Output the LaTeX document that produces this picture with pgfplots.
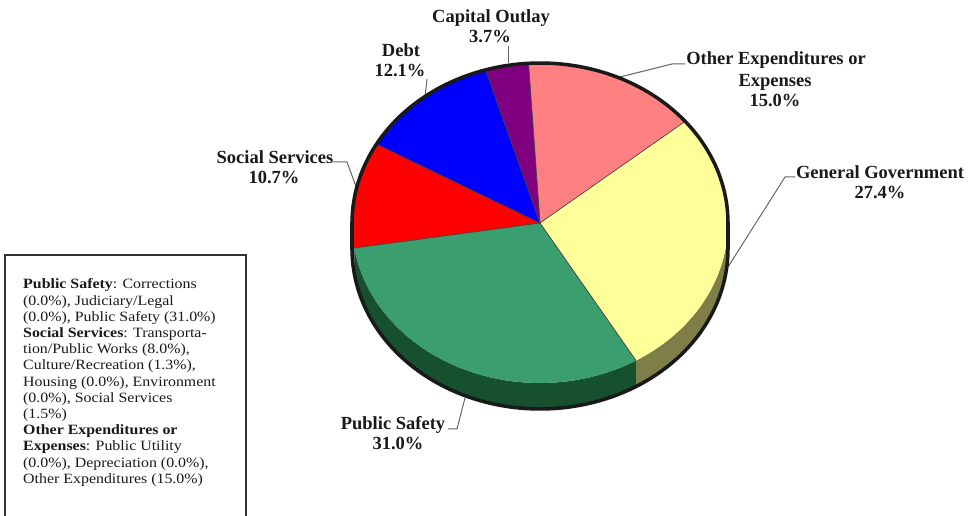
\documentclass[border=0pt]{standalone}
\usepackage{fontspec}
\setmainfont{Liberation Serif}
\usepackage{graphicx}
\usepackage{pgfplots}
\pgfplotsset{compat=1.18}
\usepgfplotslibrary{fillbetween}

\definecolor{cOther}{HTML}{FF8080}
\definecolor{cGen}{HTML}{FFFF99}
\definecolor{cSafe}{HTML}{3A9E6E}
\definecolor{cSoc}{HTML}{FF0000}
\definecolor{cDebt}{HTML}{0000FF}
\definecolor{cCap}{HTML}{800080}
\definecolor{sGen}{HTML}{7F7D48}
\definecolor{sSafe}{HTML}{16502F}
\definecolor{sSoc}{HTML}{8B0000}
\definecolor{leader}{HTML}{666666}

% slice shares in percent, clockwise from the top
\def\vOther{15.0}
\def\vGen{27.4}
\def\vSafe{31.0}
\def\vSoc{10.7}
\def\vDebt{12.1}
\def\vCap{3.7}

% pie geometry (picture pixels)
\def\pcx{540}
\def\pcy{223}
\def\rx{188}
\def\ry{160}
\def\dep{26}
\def\start{93.5}

\newcommand{\lab}{\fontsize{18.5}{21}\selectfont\bfseries}

\begin{document}
\begin{tikzpicture}
\pgfmathsetmacro{\tot}{\vOther+\vGen+\vSafe+\vSoc+\vDebt+\vCap}
\pgfmathsetmacro{\aA}{\start}
\pgfmathsetmacro{\aB}{\aA-360*\vOther/\tot}
\pgfmathsetmacro{\aC}{\aB-360*\vGen/\tot}
\pgfmathsetmacro{\aD}{\aC-360*\vSafe/\tot}
\pgfmathsetmacro{\aE}{\aD-360*\vSoc/\tot}
\pgfmathsetmacro{\aF}{\aE-360*\vDebt/\tot}
\pgfmathsetmacro{\aG}{\aF-360*\vCap/\tot}
\begin{axis}[
  width=969pt, height=516pt, scale only axis,
  xmin=0, xmax=969, ymin=0, ymax=516, y dir=reverse,
  hide axis, clip=false,
]
\coordinate (p1) at (rel axis cs:0,0);
\coordinate (p2) at (rel axis cs:1,1);

% front side of the pie
\addplot[draw=none, name path=gT, domain=\aC:0, samples=40] ({\pcx+\rx*cos(x)},{\pcy-\ry*sin(x)});
\addplot[draw=none, name path=gB, domain=\aC:0, samples=40] ({\pcx+\rx*cos(x)},{\pcy+\dep-\ry*sin(x)});
\addplot[fill=sGen, draw=none] fill between[of=gT and gB];
\addplot[draw=none, name path=sT, domain=\aD:\aC, samples=60] ({\pcx+\rx*cos(x)},{\pcy-\ry*sin(x)});
\addplot[draw=none, name path=sB, domain=\aD:\aC, samples=60] ({\pcx+\rx*cos(x)},{\pcy+\dep-\ry*sin(x)});
\addplot[fill=sSafe, draw=none] fill between[of=sT and sB];
\addplot[draw=none, name path=rT, domain=-180:\aD, samples=10] ({\pcx+\rx*cos(x)},{\pcy-\ry*sin(x)});
\addplot[draw=none, name path=rB, domain=-180:\aD, samples=10] ({\pcx+\rx*cos(x)},{\pcy+\dep-\ry*sin(x)});
\addplot[fill=sSafe, draw=none] fill between[of=rT and rB];

% top face
\addplot[fill=cOther, draw=none, domain=\aB:\aA, samples=40] ({\pcx+\rx*cos(x)},{\pcy-\ry*sin(x)}) -- (\pcx,\pcy) -- cycle;
\addplot[fill=cGen, draw=none, domain=\aC:\aB, samples=60] ({\pcx+\rx*cos(x)},{\pcy-\ry*sin(x)}) -- (\pcx,\pcy) -- cycle;
\addplot[fill=cSafe, draw=none, domain=\aD:\aC, samples=60] ({\pcx+\rx*cos(x)},{\pcy-\ry*sin(x)}) -- (\pcx,\pcy) -- cycle;
\addplot[fill=cSoc, draw=none, domain=\aE:\aD, samples=30] ({\pcx+\rx*cos(x)},{\pcy-\ry*sin(x)}) -- (\pcx,\pcy) -- cycle;
\addplot[fill=cDebt, draw=none, domain=\aF:\aE, samples=30] ({\pcx+\rx*cos(x)},{\pcy-\ry*sin(x)}) -- (\pcx,\pcy) -- cycle;
\addplot[fill=cCap, draw=none, domain=\aG:\aF, samples=15] ({\pcx+\rx*cos(x)},{\pcy-\ry*sin(x)}) -- (\pcx,\pcy) -- cycle;

% slice borders
\addplot[black!75, line width=0.7pt, domain=0:1, samples=2] ({\pcx+x*\rx*cos(\aA)},{\pcy-x*\ry*sin(\aA)});
\addplot[black!75, line width=0.7pt, domain=0:1, samples=2] ({\pcx+x*\rx*cos(\aB)},{\pcy-x*\ry*sin(\aB)});
\addplot[black!75, line width=0.7pt, domain=0:1, samples=2] ({\pcx+x*\rx*cos(\aC)},{\pcy-x*\ry*sin(\aC)});
\addplot[black!75, line width=0.7pt, domain=0:1, samples=2] ({\pcx+x*\rx*cos(\aD)},{\pcy-x*\ry*sin(\aD)});
\addplot[black!75, line width=0.7pt, domain=0:1, samples=2] ({\pcx+x*\rx*cos(\aE)},{\pcy-x*\ry*sin(\aE)});
\addplot[black!75, line width=0.7pt, domain=0:1, samples=2] ({\pcx+x*\rx*cos(\aF)},{\pcy-x*\ry*sin(\aF)});

% leader lines
\addplot[leader, line width=1pt] coordinates {(508,46) (508,63)};
\addplot[leader, line width=1pt] coordinates {(427,79) (425,97)};
\addplot[leader, line width=1pt] coordinates {(620,77) (672,64) (685,64)};
\addplot[leader, line width=1pt] coordinates {(728,267) (785,177) (795,177)};
\addplot[leader, line width=1pt] coordinates {(333,162) (347,162) (358,192)};
\addplot[leader, line width=1pt] coordinates {(448,429) (457,429) (465,398)};

% outline
\addplot[black!90, line width=3.5pt, line cap=round, domain=0:180, samples=100] ({\pcx+\rx*cos(x)},{\pcy-\ry*sin(x)});
\addplot[black!90, line width=3.5pt, line cap=round, domain=180:360, samples=100] ({\pcx+\rx*cos(x)},{\pcy+\dep-\ry*sin(x)});
\addplot[black!90, line width=3.5pt, line cap=round] coordinates {(\pcx-\rx,\pcy) (\pcx-\rx,\pcy+\dep)};
\addplot[black!90, line width=3.5pt, line cap=round] coordinates {(\pcx+\rx,\pcy) (\pcx+\rx,\pcy+\dep)};

% slice labels
\node[font=\lab, anchor=base, text=black!90] at (491,23) {Capital Outlay};
\node[font=\lab, anchor=base, text=black!90] at (490,43) {3.7\%};
\node[font=\lab, anchor=base, text=black!90] at (401,57) {Debt};
\node[font=\lab, anchor=base, text=black!90] at (400,77) {12.1\%};
\node[font=\lab, anchor=base, text=black!90] at (776,65) {Other Expenditures or};
\node[font=\lab, anchor=base, text=black!90] at (775,87) {Expenses};
\node[font=\lab, anchor=base, text=black!90] at (775,107) {15.0\%};
\node[font=\lab, anchor=base, text=black!90] at (880,179) {General Government};
\node[font=\lab, anchor=base, text=black!90] at (880,199) {27.4\%};
\node[font=\lab, anchor=base, text=black!90] at (275,164) {Social Services};
\node[font=\lab, anchor=base, text=black!90] at (274,184) {10.7\%};
\node[font=\lab, anchor=base, text=black!90] at (393,430) {Public Safety};
\node[font=\lab, anchor=base, text=black!90] at (398,450) {31.0\%};

% note box
\addplot[black!80, line width=1.5pt] coordinates {(5,516) (5,255) (246,255) (246,516)};
\node[anchor=base west, inner sep=0pt, text=black!90] at (23,289) {\scalebox{1.12}[1]{\fontsize{14.2}{16.2}\selectfont
\begin{tabular}[t]{@{}l@{}}
\textbf{Public Safety}: Corrections\\
(0.0\%), Judiciary/Legal\\
(0.0\%), Public Safety (31.0\%)\\
\textbf{Social Services}: Transporta-\\
tion/Public Works (8.0\%),\\
Culture/Recreation (1.3\%),\\
Housing (0.0\%), Environment\\
(0.0\%), Social Services\\
(1.5\%)\\
\textbf{Other Expenditures or}\\
\textbf{Expenses}: Public Utility\\
(0.0\%), Depreciation (0.0\%),\\
Other Expenditures (15.0\%)
\end{tabular}}};
\end{axis}
\pgfresetboundingbox
\path[use as bounding box] (p1) rectangle (p2);
\end{tikzpicture}
\end{document}
